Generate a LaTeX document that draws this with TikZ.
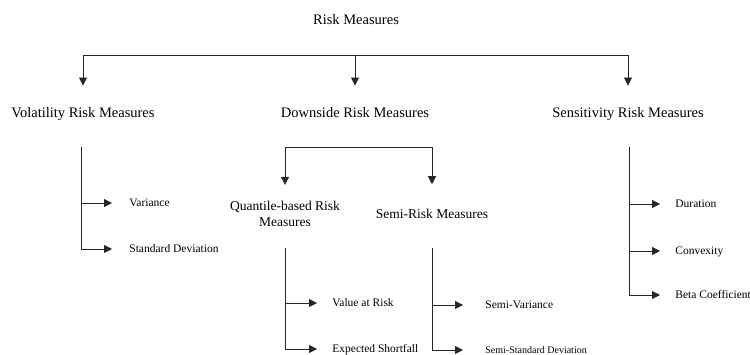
\documentclass[tikz,border=0pt]{standalone}
\usepackage{fontspec}
\setmainfont{Liberation Serif}
\usetikzlibrary{arrows.meta,positioning}

\begin{document}
\begin{tikzpicture}[x=1pt, y=-1pt, anchor=base, line width=0.8pt,
    tip/.style={draw=black!85, -{Triangle[length=8pt,width=8pt]}},
    big/.style={font=\fontsize{14.5}{16}\selectfont, inner sep=0pt},
    mid/.style={font=\fontsize{13.5}{16}\selectfont, inner sep=0pt, align=center},
    leaf/.style={font=\fontsize{11.5}{13}\selectfont, inner sep=0pt, anchor=base west,
      text height=8pt, text depth=0pt}]
    \useasboundingbox (0,0) rectangle (750,355);

    % top levels
    \node[big] (risk) at (356,25) {Risk Measures};
    \node[big] (vol) at (83,118) {Volatility Risk Measures};
    \node[big] (down) at (355,118) {Downside Risk Measures};
    \node[big] (sens) at (628,118) {Sensitivity Risk Measures};
    \coordinate (bar) at (355,55);
    \draw[tip, shorten >=22pt] (bar) -| (vol.north);
    \draw[tip, shorten >=22pt] (bar) -- (down.north);
    \draw[tip, shorten >=22pt] (bar) -| (sens.north);

    % downside split
    \node[mid, anchor=center] (quant) at (285,214) {Quantile-based Risk\\Measures};
    \node[mid] (semi) at (432,219) {Semi-Risk Measures};
    \coordinate (split) at (358,147);
    \draw[tip, shorten >=16pt] (split) -| (quant.north);
    \draw[tip, shorten >=25pt] (split) -| (semi.north);

    % volatility leaves
    \coordinate (voltop) at (81,147);
    \node[leaf] (var) at (129,207) {Variance};
    \node[leaf] (sd) at (129,253) {Standard Deviation};
    \draw[tip, shorten >=17pt] (voltop) |- (var.west);
    \draw[tip, shorten >=17pt] (voltop) |- (sd.west);

    % quantile leaves
    \coordinate (quanttop) at (285,248);
    \node[leaf] (var2) at (332,307) {Value at Risk};
    \node[leaf] (es) at (332,353) {Expected Shortfall};
    \draw[tip, shorten >=15pt] (quanttop) |- (var2.west);
    \draw[tip, shorten >=15pt] (quanttop) |- (es.west);

    % semi leaves
    \coordinate (semitop) at (432,248);
    \node[leaf] (sv) at (485,309) {Semi-Variance};
    \node[leaf, font=\fontsize{10}{12}\selectfont] (ssd) at (485,354) {Semi-Standard Deviation};
    \draw[tip, shorten >=22pt] (semitop) |- (sv.west);
    \draw[tip, shorten >=22pt] (semitop) |- (ssd.west);

    % sensitivity leaves
    \coordinate (senstop) at (629,147);
    \node[leaf] (dur) at (675,208) {Duration};
    \node[leaf] (conv) at (675,255) {Convexity};
    \node[leaf] (beta) at (675,299) {Beta Coefficient};
    \draw[tip, shorten >=15pt] (senstop) |- (dur.west);
    \draw[tip, shorten >=15pt] (senstop) |- (conv.west);
    \draw[tip, shorten >=15pt] (senstop) |- (beta.west);
\end{tikzpicture}
\end{document}
